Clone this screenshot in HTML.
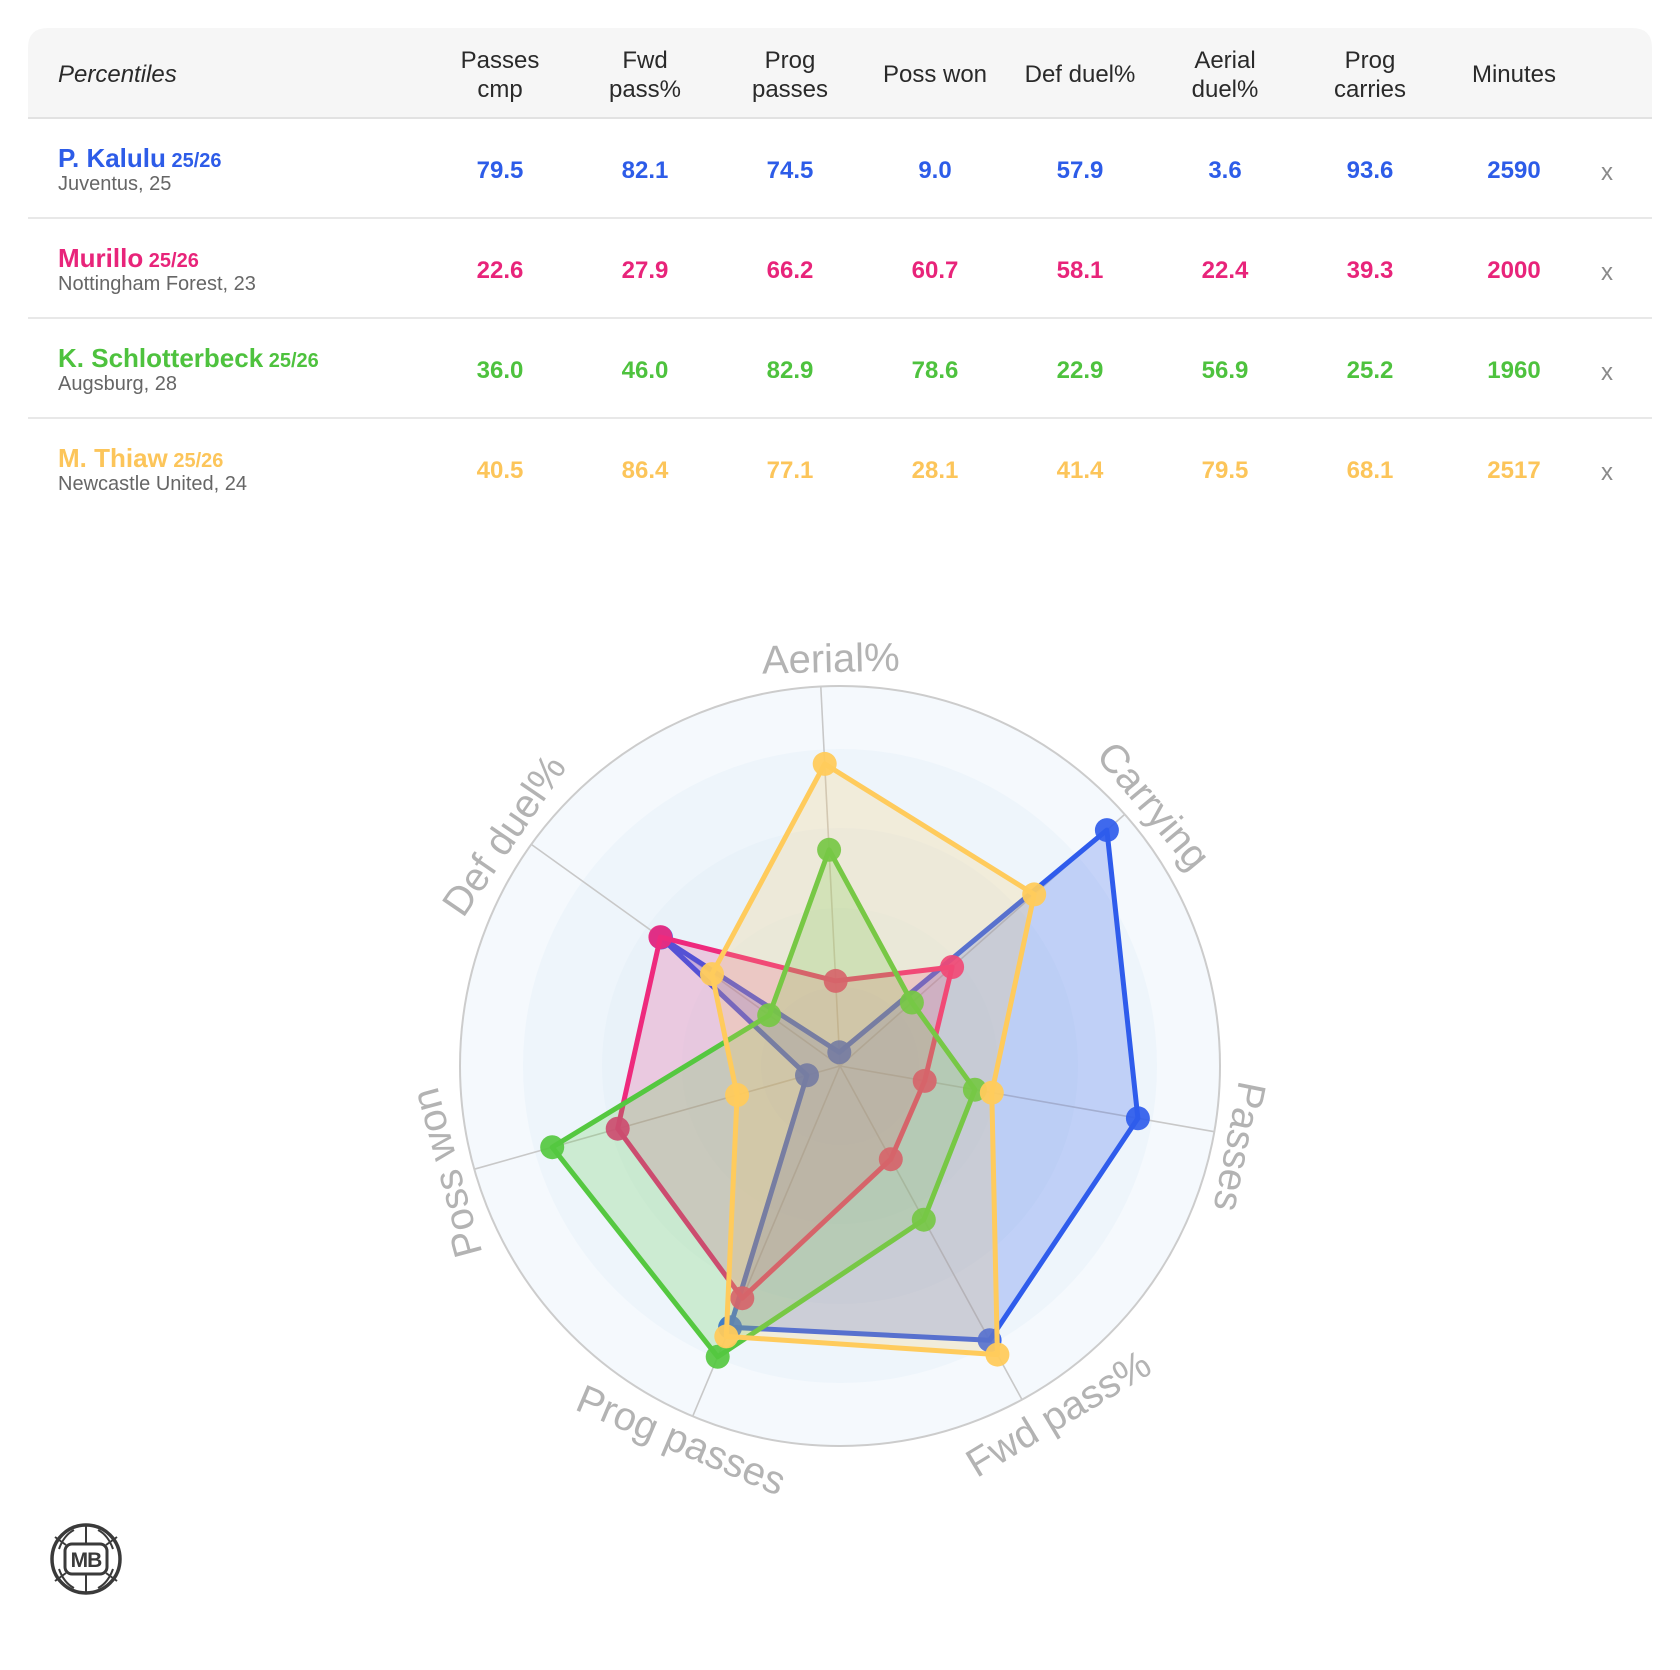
<!DOCTYPE html>
<html>
<head>
<meta charset="utf-8">
<style>
  html, body { margin:0; padding:0; background:#ffffff; }
  body { width:1680px; height:1670px; overflow:hidden; }
  svg { display:block; font-family:"Liberation Sans", Arial, sans-serif; }
</style>
</head>
<body>
<svg width="1680" height="1670" viewBox="0 0 1680 1670" xmlns="http://www.w3.org/2000/svg">
  <rect x="0" y="0" width="1680" height="1670" fill="#ffffff"/>

  <!-- ===== TABLE ===== -->
  <path d="M28,118 L28,48 Q28,28 48,28 L1632,28 Q1652,28 1652,48 L1652,118 Z" fill="#f6f6f6"/>
  <rect x="28" y="117" width="1624" height="2" fill="#e2e2e2"/>
  <rect x="28" y="217" width="1624" height="2" fill="#e8e8e8"/>
  <rect x="28" y="317" width="1624" height="2" fill="#e8e8e8"/>
  <rect x="28" y="417" width="1624" height="2" fill="#e8e8e8"/>

  <g font-size="24" fill="#2a2a2a" text-anchor="middle">
    <text x="58" y="82" text-anchor="start" font-style="italic">Percentiles</text>
    <text x="500" y="68">Passes</text><text x="500" y="97">cmp</text>
    <text x="645" y="68">Fwd</text><text x="645" y="97">pass%</text>
    <text x="790" y="68">Prog</text><text x="790" y="97">passes</text>
    <text x="935" y="82">Poss won</text>
    <text x="1080" y="82">Def duel%</text>
    <text x="1225" y="68">Aerial</text><text x="1225" y="97">duel%</text>
    <text x="1370" y="68">Prog</text><text x="1370" y="97">carries</text>
    <text x="1514" y="82">Minutes</text>
  </g>

  <!-- Row 1 -->
  <g>
    <text x="58" y="167" font-size="20" font-weight="bold" fill="#2d5ce8"><tspan font-size="26">P. Kalulu</tspan> <tspan>25/26</tspan></text>
    <text x="58" y="190" font-size="20" fill="#666666">Juventus, 25</text>
    <g font-size="24" font-weight="bold" fill="#2d5ce8" text-anchor="middle">
      <text x="500" y="178">79.5</text><text x="645" y="178">82.1</text><text x="790" y="178">74.5</text>
      <text x="935" y="178">9.0</text><text x="1080" y="178">57.9</text><text x="1225" y="178">3.6</text>
      <text x="1370" y="178">93.6</text><text x="1514" y="178">2590</text>
    </g>
    <text x="1607" y="180" font-size="24" fill="#8a8a8a" text-anchor="middle">x</text>
  </g>
  <!-- Row 2 -->
  <g>
    <text x="58" y="267" font-size="20" font-weight="bold" fill="#e8247a"><tspan font-size="26">Murillo</tspan> <tspan>25/26</tspan></text>
    <text x="58" y="290" font-size="20" fill="#666666">Nottingham Forest, 23</text>
    <g font-size="24" font-weight="bold" fill="#e8247a" text-anchor="middle">
      <text x="500" y="278">22.6</text><text x="645" y="278">27.9</text><text x="790" y="278">66.2</text>
      <text x="935" y="278">60.7</text><text x="1080" y="278">58.1</text><text x="1225" y="278">22.4</text>
      <text x="1370" y="278">39.3</text><text x="1514" y="278">2000</text>
    </g>
    <text x="1607" y="280" font-size="24" fill="#8a8a8a" text-anchor="middle">x</text>
  </g>
  <!-- Row 3 -->
  <g>
    <text x="58" y="367" font-size="20" font-weight="bold" fill="#4ec23e"><tspan font-size="26">K. Schlotterbeck</tspan> <tspan>25/26</tspan></text>
    <text x="58" y="390" font-size="20" fill="#666666">Augsburg, 28</text>
    <g font-size="24" font-weight="bold" fill="#4ec23e" text-anchor="middle">
      <text x="500" y="378">36.0</text><text x="645" y="378">46.0</text><text x="790" y="378">82.9</text>
      <text x="935" y="378">78.6</text><text x="1080" y="378">22.9</text><text x="1225" y="378">56.9</text>
      <text x="1370" y="378">25.2</text><text x="1514" y="378">1960</text>
    </g>
    <text x="1607" y="380" font-size="24" fill="#8a8a8a" text-anchor="middle">x</text>
  </g>
  <!-- Row 4 -->
  <g>
    <text x="58" y="467" font-size="20" font-weight="bold" fill="#fcc55a"><tspan font-size="26">M. Thiaw</tspan> <tspan>25/26</tspan></text>
    <text x="58" y="490" font-size="20" fill="#666666">Newcastle United, 24</text>
    <g font-size="24" font-weight="bold" fill="#fcc55a" text-anchor="middle">
      <text x="500" y="478">40.5</text><text x="645" y="478">86.4</text><text x="790" y="478">77.1</text>
      <text x="935" y="478">28.1</text><text x="1080" y="478">41.4</text><text x="1225" y="478">79.5</text>
      <text x="1370" y="478">68.1</text><text x="1514" y="478">2517</text>
    </g>
    <text x="1607" y="480" font-size="24" fill="#8a8a8a" text-anchor="middle">x</text>
  </g>

  <!-- ===== RADAR ===== -->
  <g>
    <circle cx="840" cy="1066" r="380" fill="#f5f9fd"/>
    <circle cx="840" cy="1066" r="317" fill="#eef5fb"/>
    <circle cx="840" cy="1066" r="238" fill="#e9f2f9"/>
    <circle cx="840" cy="1066" r="158" fill="#e5f0f8"/>
    <circle cx="840" cy="1066" r="79" fill="#e2eef8"/>
  </g>
  <g stroke="#c8c8c8" stroke-width="1.6">
    <line x1="840" y1="1066" x2="820.8" y2="686.5"/>
    <line x1="840" y1="1066" x2="1124.7" y2="814.4"/>
    <line x1="840" y1="1066" x2="1214.3" y2="1131.7"/>
    <line x1="840" y1="1066" x2="1022.0" y2="1399.6"/>
    <line x1="840" y1="1066" x2="692.7" y2="1416.3"/>
    <line x1="840" y1="1066" x2="474.3" y2="1169.2"/>
    <line x1="840" y1="1066" x2="531.3" y2="844.4"/>
  </g>
  <circle cx="840" cy="1066" r="380" fill="none" stroke="#cccccc" stroke-width="2"/>

  <!-- Blue: Kalulu -->
  <g>
    <polygon points="839.3,1052.3 1106.9,830.1 1137.9,1118.3 989.6,1340.2 730.1,1327.3 807.0,1075.3 661.0,937.5"
      fill="#2f5cec" fill-opacity="0.24" stroke="#2f5cec" stroke-width="5" stroke-linejoin="round"/>
    <g fill="#2f5cec" fill-opacity="0.92">
      <circle cx="839.3" cy="1052.3" r="12"/><circle cx="1106.9" cy="830.1" r="12"/>
      <circle cx="1137.9" cy="1118.3" r="12"/><circle cx="989.6" cy="1340.2" r="12"/>
      <circle cx="730.1" cy="1327.3" r="12"/><circle cx="807.0" cy="1075.3" r="12"/>
      <circle cx="661.0" cy="937.5" r="12"/>
    </g>
  </g>
  <!-- Pink: Murillo -->
  <g>
    <polygon points="835.7,980.9 952.1,967.0 924.7,1080.9 890.8,1159.2 742.3,1298.2 617.7,1128.7 660.4,937.1"
      fill="#ee2a7d" fill-opacity="0.2" stroke="#ee2a7d" stroke-width="5" stroke-linejoin="round"/>
    <g fill="#ee2a7d" fill-opacity="0.92">
      <circle cx="835.7" cy="980.9" r="12"/><circle cx="952.1" cy="967.0" r="12"/>
      <circle cx="924.7" cy="1080.9" r="12"/><circle cx="890.8" cy="1159.2" r="12"/>
      <circle cx="742.3" cy="1298.2" r="12"/><circle cx="617.7" cy="1128.7" r="12"/>
      <circle cx="660.4" cy="937.1" r="12"/>
    </g>
  </g>
  <!-- Green: Schlotterbeck -->
  <g>
    <polygon points="829.1,849.8 911.9,1002.5 974.9,1089.7 923.8,1219.7 717.7,1356.8 552.2,1147.2 769.2,1015.2"
      fill="#55c840" fill-opacity="0.22" stroke="#55c840" stroke-width="5" stroke-linejoin="round"/>
    <g fill="#55c840" fill-opacity="0.92">
      <circle cx="829.1" cy="849.8" r="12"/><circle cx="911.9" cy="1002.5" r="12"/>
      <circle cx="974.9" cy="1089.7" r="12"/><circle cx="923.8" cy="1219.7" r="12"/>
      <circle cx="717.7" cy="1356.8" r="12"/><circle cx="552.2" cy="1147.2" r="12"/>
      <circle cx="769.2" cy="1015.2" r="12"/>
    </g>
  </g>
  <!-- Yellow: Thiaw -->
  <g>
    <polygon points="824.7,763.9 1034.2,894.4 991.8,1092.7 997.4,1354.6 726.3,1336.4 737.1,1095.0 712.0,974.1"
      fill="#ffc95a" fill-opacity="0.2" stroke="#ffcb5c" stroke-width="5" stroke-linejoin="round"/>
    <g fill="#ffcb5c" fill-opacity="0.95">
      <circle cx="824.7" cy="763.9" r="12"/><circle cx="1034.2" cy="894.4" r="12"/>
      <circle cx="991.8" cy="1092.7" r="12"/><circle cx="997.4" cy="1354.6" r="12"/>
      <circle cx="726.3" cy="1336.4" r="12"/><circle cx="737.1" cy="1095.0" r="12"/>
      <circle cx="712.0" cy="974.1" r="12"/>
    </g>
  </g>

  <!-- Axis labels -->
  <g font-size="40" fill="#b3b3b3" text-anchor="middle" dominant-baseline="central">
    <text transform="translate(830.8,659.1) rotate(-1.3)">Aerial%</text>
    <text transform="translate(1153.2,806.0) rotate(50.3)">Carrying</text>
    <text transform="translate(1239.0,1146.5) rotate(101.4)">Passes</text>
    <text transform="translate(1058.7,1414.0) rotate(-31)">Fwd pass%</text>
    <text transform="translate(681.0,1440.6) rotate(23)">Prog passes</text>
    <text transform="translate(447.2,1172.7) rotate(-105.2)">Poss won</text>
    <text transform="translate(504.6,835.5) rotate(-55.5)">Def duel%</text>
  </g>

  <!-- Logo -->
  <g transform="translate(86,1559)">
    <circle cx="0" cy="0" r="34" fill="#ffffff" stroke="#3a3a3a" stroke-width="3.5"/>
    <g fill="none" stroke="#3a3a3a" stroke-width="2">
      <path d="M-20,-14 L-31,-22"/>
      <path d="M20,-14 L31,-22"/>
      <path d="M-20,14 L-31,22"/>
      <path d="M20,14 L31,22"/>
      <path d="M0,-15 L0,-33"/>
      <path d="M0,15 L0,33"/>
      <path d="M-12,-29 Q-22,-24 -27,-10"/>
      <path d="M12,-29 Q22,-24 27,-10"/>
      <path d="M-12,29 Q-22,24 -27,10"/>
      <path d="M12,29 Q22,24 27,10"/>
    </g>
    <rect x="-21" y="-15" width="42" height="30" rx="7" ry="7" fill="#ffffff" stroke="#3a3a3a" stroke-width="3"/>
    <text x="0" y="8" font-size="21" font-weight="bold" fill="#3a3a3a" text-anchor="middle" letter-spacing="-1">MB</text>
  </g>
</svg>
</body>
</html>
